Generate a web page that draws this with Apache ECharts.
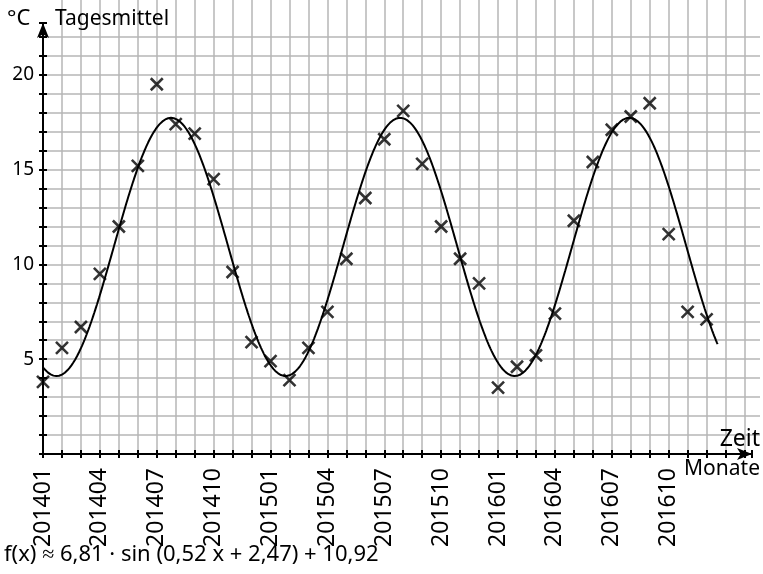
<!DOCTYPE html>
<html>
<head>
<meta charset="utf-8">
<script src="https://cdn.jsdelivr.net/npm/echarts@6/dist/echarts.min.js"></script>
<style>
  html, body { margin: 0; padding: 0; background: #ffffff; }
  #chart { width: 763px; height: 574px; }
</style>
</head>
<body>
<div id="chart"></div>
<script>
// Monthly daily-mean temperatures, Jan 2014 .. Dec 2016 (°C)
const months = [
  '201401','201402','201403','201404','201405','201406','201407','201408','201409','201410','201411','201412',
  '201501','201502','201503','201504','201505','201506','201507','201508','201509','201510','201511','201512',
  '201601','201602','201603','201604','201605','201606','201607','201608','201609','201610','201611','201612'
];
const tagesmittel = [
  3.8, 5.6, 6.7, 9.5, 12.0, 15.2, 19.5, 17.4, 16.9, 14.5, 9.6, 5.9,
  4.9, 3.9, 5.6, 7.5, 10.3, 13.5, 16.6, 18.1, 15.3, 12.0, 10.3, 9.0,
  3.5, 4.6, 5.2, 7.4, 12.3, 15.4, 17.1, 17.8, 18.5, 11.6, 7.5, 7.1
];
const xTickLabels = ['201401','201404','201407','201410','201501','201504','201507','201510','201601','201604','201607','201610'];
const yTickLabels = [5, 10, 15, 20];

// Sine regression f(x) = a*sin(b*x + c) + d
const fitA = 6.81, fitB = 0.52, fitC = 2.47, fitD = 10.92;
const fitShift = 3.6;     // month index -> model x
const curveEnd = 35.58;   // last month position of the drawn curve

const FONT = 'Noto Sans';
const UNIT = 18.96;                 // pixels per month / per °C (square paper)
const LEFT = 43, BOTTOM = 120, H = 574;
const AXIS_TOP = 23, AXIS_RIGHT = 752, PAPER_RIGHT = 760;
const X_MAX = (AXIS_RIGHT - LEFT) / UNIT;
const Y_MAX = (H - BOTTOM - AXIS_TOP) / UNIT;
const PAPER_Y_MAX = (H - BOTTOM) / UNIT;

const scatterData = tagesmittel.map((v, i) => [i, v]);
const curveData = [];
for (let k = 0; k <= Math.round(curveEnd * 20); k++) {
  const t = Math.min(k / 20, curveEnd);
  curveData.push([t, fitA * Math.sin(fitB * (t + fitShift) + fitC) + fitD]);
}

const paperLine = { show: true, showMinLine: false, showMaxLine: false, lineStyle: { color: '#b6b6b6', width: 1.5 } };
const axisBlack = { color: '#000', width: 2 };
const hidden = { show: false };

const chart = echarts.init(document.getElementById('chart'));
chart.setOption({
  animation: false,
  backgroundColor: '#ffffff',
  grid: [
    // plotting area with the axes
    { left: LEFT, right: 763 - AXIS_RIGHT, top: AXIS_TOP, bottom: BOTTOM },
    // vertical lines of the squared paper, running to the top edge
    { left: LEFT, right: 763 - AXIS_RIGHT, top: 0, bottom: BOTTOM },
    // horizontal lines of the squared paper, running under the x arrow
    { left: LEFT, right: 763 - PAPER_RIGHT, top: AXIS_TOP, bottom: BOTTOM }
  ],
  xAxis: [
    {
      gridIndex: 0, type: 'value', min: 0, max: X_MAX, interval: 1,
      axisLine: { show: true, lineStyle: axisBlack, symbol: ['none', 'arrow'], symbolSize: [9, 15] },
      axisTick: { show: true, length: 4, lineStyle: axisBlack },
      splitLine: hidden,
      axisLabel: {
        rotate: 90, margin: 14, fontFamily: FONT, fontSize: 23, color: '#000',
        formatter: v => (v % 3 === 0 && xTickLabels[v / 3]) ? xTickLabels[v / 3] : ''
      }
    },
    {
      gridIndex: 0, type: 'value', min: 0, max: X_MAX, interval: 1, position: 'bottom',
      axisLine: hidden, axisTick: { show: true, inside: true, length: 4, lineStyle: axisBlack },
      splitLine: hidden, axisLabel: hidden
    },
    {
      gridIndex: 1, type: 'value', min: 0, max: X_MAX, interval: 1,
      axisLine: hidden, axisTick: hidden, axisLabel: hidden, splitLine: paperLine
    },
    {
      gridIndex: 2, type: 'value', min: 0, max: 1,
      axisLine: hidden, axisTick: hidden, axisLabel: hidden, splitLine: hidden
    }
  ],
  yAxis: [
    {
      gridIndex: 0, type: 'value', min: 0, max: Y_MAX, interval: 1,
      axisLine: { show: true, lineStyle: axisBlack, symbol: ['none', 'arrow'], symbolSize: [9, 15] },
      axisTick: { show: true, length: 4, lineStyle: axisBlack },
      splitLine: hidden,
      axisLabel: {
        margin: 9, fontFamily: FONT, fontSize: 19, color: '#000',
        formatter: v => yTickLabels.indexOf(v) >= 0 ? String(v) : ''
      }
    },
    {
      gridIndex: 0, type: 'value', min: 0, max: Y_MAX, interval: 1, position: 'left',
      axisLine: hidden, axisTick: { show: true, inside: true, length: 4, lineStyle: axisBlack },
      splitLine: hidden, axisLabel: hidden
    },
    {
      gridIndex: 1, type: 'value', min: 0, max: PAPER_Y_MAX,
      axisLine: hidden, axisTick: hidden, axisLabel: hidden, splitLine: hidden
    },
    {
      gridIndex: 2, type: 'value', min: 0, max: Y_MAX, interval: 1,
      axisLine: hidden, axisTick: hidden, axisLabel: hidden, splitLine: paperLine
    }
  ],
  series: [
    {
      name: 'Ausgleichskurve', type: 'line', data: curveData,
      xAxisIndex: 0, yAxisIndex: 0,
      showSymbol: false, smooth: false,
      lineStyle: { color: '#000', width: 2 }, z: 3
    },
    {
      name: 'Tagesmittel', type: 'scatter', data: scatterData,
      xAxisIndex: 0, yAxisIndex: 0,
      symbol: 'path://M0,0L10,10M10,0L0,10', symbolSize: 12,
      itemStyle: { color: 'rgba(0,0,0,0)', borderColor: '#000', borderWidth: 2.6 }, z: 4
    }
  ],
  graphic: [
    { type: 'text', z: 100, left: 7, top: 8, style: { text: '°C', font: '22px "Noto Sans"', fill: '#000' } },
    { type: 'text', z: 100, left: 55, top: 9, style: { text: 'Tagesmittel', font: '21px "Noto Sans"', fill: '#000' } },
    { type: 'text', z: 100, right: 3, top: 428, style: { text: 'Zeit', font: '23px "Noto Sans"', fill: '#000' } },
    { type: 'text', z: 100, right: 3, top: 459, style: { text: 'Monate', font: '21px "Noto Sans"', fill: '#000' } },
    { type: 'text', z: 100, left: 4, top: 544, style: { text: 'f(x) ≈ 6,81 · sin (0,52 x + 2,47) + 10,92', font: '22px "Noto Sans"', fill: '#000' } }
  ]
});
</script>
</body>
</html>
